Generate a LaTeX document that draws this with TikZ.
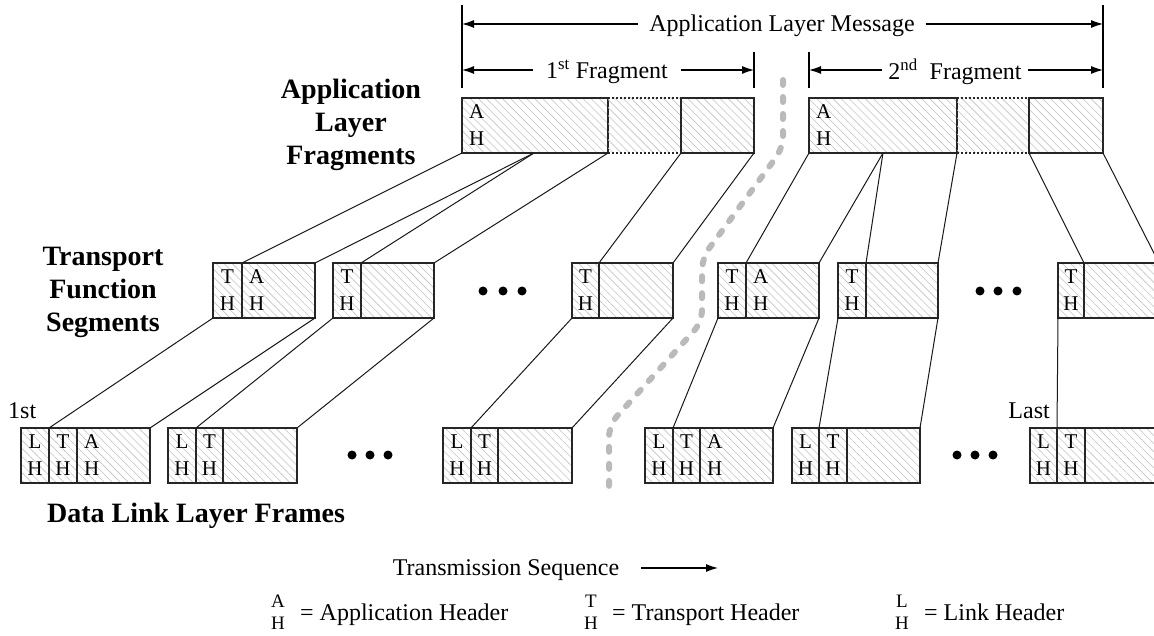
\documentclass[tikz,border=0pt]{standalone}
\usepackage{fontspec}
\setmainfont{Liberation Serif}
\usetikzlibrary{patterns.meta,arrows.meta,calc}
\begin{document}
\begin{tikzpicture}[x=1pt,y=-1pt,
  cell/.style={draw=black!85, line width=1.2pt, rectangle, inner sep=0pt, outer sep=0pt,
    anchor=north west, minimum height=55pt,
    pattern={Lines[angle=-45,distance=5.7pt,line width=0.6pt]}, pattern color=black!24,
    font=\fontsize{21}{27}\selectfont, align=center},
  hdr/.style={inner sep=0pt, anchor=west, font=\fontsize{21}{27}\selectfont, align=center},
  dotline/.style={line width=1.2pt, dash pattern=on 2pt off 2pt, draw=black!85},
  conn/.style={line width=1pt, draw=black!90},
  dot/.style={circle, fill=black, inner sep=0pt, minimum size=9pt},
  tickline/.style={line width=1.2pt},
  dim/.style={line width=1.1pt, -{Latex[length=12pt,width=8pt]}},
  lbl/.style={font=\fontsize{24}{29}\selectfont, inner ysep=0pt},
  blbl/.style={font=\fontsize{28}{33}\selectfont\bfseries, align=center, inner sep=0pt},
  leg/.style={font=\fontsize{19}{22}\selectfont, align=center, inner sep=0pt},
  sepline/.style={line width=6pt, draw=black!27, dash pattern=on 5pt off 12pt, line cap=round, rounded corners=12pt}
]
\useasboundingbox (0,0) rectangle (1154,636);
\clip (0,0) rectangle (1154,636);

% ---------- grey separator ----------
\draw[sepline] (783,80) -- (783,148) -- (702,258) -- (702,322) -- (609,425) -- (609,486);

% ---------- application layer fragments ----------
\node[cell, minimum width=146pt] (f1a) at (462,98) {};
\node[cell, draw=none, minimum width=73pt] (f1b) at (608,98) {};
\node[cell, minimum width=73pt] (f1c) at (681,98) {};
\node[cell, minimum width=148pt] (f2a) at (809,98) {};
\node[cell, draw=none, minimum width=72pt] (f2b) at (957,98) {};
\node[cell, minimum width=74pt] (f2c) at (1029,98) {};
\draw[dotline] (f1b.north west) -- (f1b.north east);
\draw[dotline] (f1b.south west) -- (f1b.south east);
\draw[dotline] (f2b.north west) -- (f2b.north east);
\draw[dotline] (f2b.south west) -- (f2b.south east);
\node[hdr] (f1ah) at ($(f1a.west)+(7,0)$) {A\\H};
\node[hdr] (f2ah) at ($(f2a.west)+(7,0)$) {A\\H};

% ---------- transport function segments ----------
\node[cell, minimum width=29pt] (s1h) at (213,263) {T\\H};
\node[cell, minimum width=73pt] (s1p) at (242,263) {};
\node[hdr] (s1ah) at ($(s1p.west)+(7,0)$) {A\\H};
\node[cell, minimum width=28pt] (s2h) at (333,263) {T\\H};
\node[cell, minimum width=73pt] (s2p) at (361,263) {};
\node[cell, minimum width=27pt] (s3h) at (572,263) {T\\H};
\node[cell, minimum width=74pt] (s3p) at (599,263) {};
\node[cell, minimum width=28pt] (s4h) at (718,263) {T\\H};
\node[cell, minimum width=73pt] (s4p) at (746,263) {};
\node[hdr] (s4ah) at ($(s4p.west)+(7,0)$) {A\\H};
\node[cell, minimum width=28pt] (s5h) at (838,263) {T\\H};
\node[cell, minimum width=72pt] (s5p) at (866,263) {};
\node[cell, minimum width=26pt] (s6h) at (1058,263) {T\\H};
\node[cell, minimum width=75pt] (s6p) at (1084,263) {};

% ---------- data link layer frames ----------
\node[cell, minimum width=28pt] (k1l) at (21,428) {L\\H};
\node[cell, minimum width=28pt] (k1t) at (49,428) {T\\H};
\node[cell, minimum width=73pt] (k1p) at (77,428) {};
\node[hdr] (k1ah) at ($(k1p.west)+(7,0)$) {A\\H};
\node[cell, minimum width=28pt] (k2l) at (168,428) {L\\H};
\node[cell, minimum width=27pt] (k2t) at (196,428) {T\\H};
\node[cell, minimum width=74pt] (k2p) at (223,428) {};
\node[cell, minimum width=28pt] (k3l) at (443,428) {L\\H};
\node[cell, minimum width=27pt] (k3t) at (471,428) {T\\H};
\node[cell, minimum width=74pt] (k3p) at (498,428) {};
\node[cell, minimum width=28pt] (k4l) at (645,428) {L\\H};
\node[cell, minimum width=27pt] (k4t) at (673,428) {T\\H};
\node[cell, minimum width=73pt] (k4p) at (700,428) {};
\node[hdr] (k4ah) at ($(k4p.west)+(7,0)$) {A\\H};
\node[cell, minimum width=27pt] (k5l) at (792,428) {L\\H};
\node[cell, minimum width=28pt] (k5t) at (819,428) {T\\H};
\node[cell, minimum width=73pt] (k5p) at (847,428) {};
\node[cell, minimum width=27pt] (k6l) at (1030,428) {L\\H};
\node[cell, minimum width=28pt] (k6t) at (1057,428) {T\\H};
\node[cell, minimum width=74pt] (k6p) at (1085,428) {};

% ---------- connectors: fragments -> segments ----------
\coordinate (f1m) at ($(f1a.south west)!0.493!(f1a.south east)$);
\coordinate (f2m) at ($(f2a.south west)!0.5!(f2a.south east)$);
\draw[conn] (f1a.south west) -- (s1p.north west);
\draw[conn] (f1m) -- (s1p.north east);
\draw[conn] (f1m) -- (s2p.north west);
\draw[conn] (f1a.south east) -- (s2p.north east);
\draw[conn] (f1c.south west) -- (s3p.north west);
\draw[conn] (f1c.south east) -- (s3p.north east);
\draw[conn] (f2a.south west) -- (s4p.north west);
\draw[conn] (f2m) -- (s4p.north east);
\draw[conn] (f2m) -- (s5p.north west);
\draw[conn] (f2a.south east) -- (s5p.north east);
\draw[conn] (f2c.south west) -- (s6p.north west);
\draw[conn] (f2c.south east) -- (s6p.north east);

% ---------- connectors: segments -> frames ----------
\draw[conn] (s1h.south west) -- (k1t.north west);
\draw[conn] (s1p.south east) -- (k1p.north east);
\draw[conn] (s2h.south west) -- (k2t.north west);
\draw[conn] (s2p.south east) -- (k2p.north east);
\draw[conn] (s3h.south west) -- (k3t.north west);
\draw[conn] (s3p.south east) -- (k3p.north east);
\draw[conn] (s4h.south west) -- (k4t.north west);
\draw[conn] (s4p.south east) -- (k4p.north east);
\draw[conn] (s5h.south west) -- (k5t.north west);
\draw[conn] (s5p.south east) -- (k5p.north east);
\draw[conn] (s6h.south west) -- (k6t.north west);
\draw[conn] (s6p.south east) -- (k6p.north east);

% ---------- ellipsis dots ----------
\node[dot] (e1) at (483,291) {};
\node[dot] (e2) at (503,291) {};
\node[dot] (e3) at (522,291) {};
\node[dot] (e4) at (980,291) {};
\node[dot] (e5) at (998,291) {};
\node[dot] (e6) at (1017,291) {};
\node[dot] (e7) at (352,455) {};
\node[dot] (e8) at (370,455) {};
\node[dot] (e9) at (388,455) {};
\node[dot] (e10) at (957,455) {};
\node[dot] (e11) at (975,455) {};
\node[dot] (e12) at (993,455) {};

% ---------- dimension lines ----------
\coordinate (v1t) at (462,5);  \coordinate (v1b) at (462,88);
\coordinate (v2t) at (1103,5); \coordinate (v2b) at (1103,88);
\coordinate (v3t) at (754,52); \coordinate (v3b) at (754,88);
\coordinate (v4t) at (809,52); \coordinate (v4b) at (809,88);
\draw[tickline] (v1t) -- (v1b);
\draw[tickline] (v2t) -- (v2b);
\draw[tickline] (v3t) -- (v3b);
\draw[tickline] (v4t) -- (v4b);

\coordinate (mL) at (462,24);  \coordinate (mR) at (1103,24);
\node[lbl, inner xsep=11pt] (msg) at (782,26) {Application Layer Message};
\draw[dim] (msg.west |- mL) -- (mL);
\draw[dim] (msg.east |- mR) -- (mR);

\coordinate (fL1) at (462,70); \coordinate (fR1) at (754,70);
\node[lbl, inner xsep=13pt] (fr1) at (607,72) {1\textsuperscript{st} Fragment};
\draw[dim] (fr1.west |- fL1) -- (fL1);
\draw[dim] (fr1.east |- fR1) -- (fR1);

\coordinate (fL2) at (809,70); \coordinate (fR2) at (1103,70);
\node[lbl, inner xsep=6pt] (fr2) at (955,72) {2\textsuperscript{nd}~~Fragment};
\draw[dim] (fr2.west |- fL2) -- (fL2);
\draw[dim] (fr2.east |- fR2) -- (fR2);

% ---------- layer labels ----------
\node[blbl] (alf) at (351,125) {Application\\Layer\\Fragments};
\node[blbl] (tfs) at (103,292) {Transport\\Function\\Segments};
\node[blbl] (dll) at (196,516) {Data Link Layer Frames};
\node[lbl, inner xsep=0pt, anchor=west] (first) at (8,411) {1st};
\node[lbl, inner xsep=0pt, anchor=east] (last) at (1050,411) {Last};

% ---------- transmission sequence ----------
\coordinate (tsE) at (718,568);
\node[lbl, inner xsep=22pt] (ts) at (506,570) {Transmission Sequence};
\draw[dim] (ts.east |- tsE) -- (tsE);

% ---------- legend ----------
\node[leg] (lgA) at (278,612) {A\\H};
\node[lbl, inner sep=0pt, anchor=base west] (lgAt) at (300,620) {= Application Header};
\node[leg] (lgT) at (591,612) {T\\H};
\node[lbl, inner sep=0pt, anchor=base west] (lgTt) at (612,620) {= Transport Header};
\node[leg] (lgL) at (902,612) {L\\H};
\node[lbl, inner sep=0pt, anchor=base west] (lgLt) at (924,620) {= Link Header};
\end{tikzpicture}
\end{document}
